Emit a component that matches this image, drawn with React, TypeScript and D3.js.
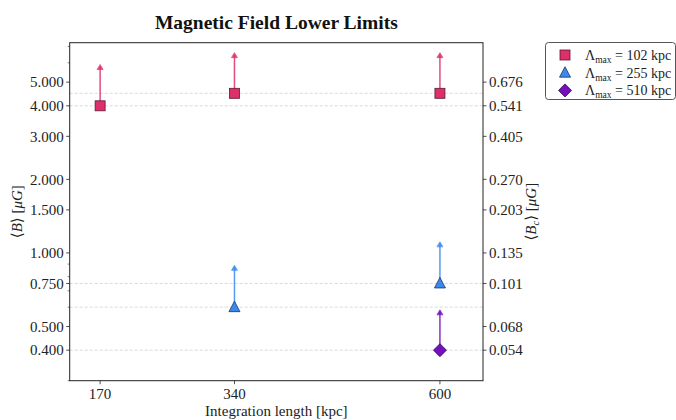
import React from "react";
import * as d3 from "d3";

const xCategories = [170, 340, 600];
const yTickValues = [5, 4, 3, 2, 1.5, 1, 0.75, 0.5, 0.4];
const yTickLabels = ["5.000", "4.000", "3.000", "2.000", "1.500", "1.000", "0.750", "0.500", "0.400"];
const yMinorTicks = [0.3, 0.6, 0.7, 0.8, 0.9, 6, 7];
const yRightTickLabels = ["0.676", "0.541", "0.405", "0.270", "0.203", "0.135", "0.101", "0.068", "0.054"];

const s102X = [170, 340, 600];
const s102Val = [4.0, 4.5, 4.5];
const s102Up = [5.9, 6.6, 6.6];
const s255X = [340, 600];
const s255Val = [0.6, 0.75];
const s255Up = [0.89, 1.11];
const s510X = [600];
const s510Val = [0.4];
const s510Up = [0.585];

const seriesLabels = ["102", "255", "510"];

const W = 676, H = 420;
const M = { left: 69.7, right: 483, top: 42.7, bottom: 380.7 };
const SERIF = "'Liberation Serif', 'DejaVu Serif', serif";

const series = [
  { x: s102X, v: s102Val, up: s102Up, color: "#dd2f6c", edge: "#5a1830", shape: "square", label: seriesLabels[0] },
  { x: s255X, v: s255Val, up: s255Up, color: "#3a8aee", edge: "#173766", shape: "triangle", label: seriesLabels[1] },
  { x: s510X, v: s510Val, up: s510Up, color: "#7410bd", edge: "#2e0650", shape: "diamond", label: seriesLabels[2] },
];

function Marker({ shape, cx, cy, fill, stroke }: any) {
  if (shape === "square") return <rect x={cx - 5} y={cy - 5} width={10} height={10} fill={fill} stroke={stroke} strokeWidth={0.8} />;
  if (shape === "triangle") return <path d={`M${cx},${cy - 6} L${cx + 5.5},${cy + 4.5} L${cx - 5.5},${cy + 4.5} Z`} fill={fill} stroke={stroke} strokeWidth={0.8} />;
  return <path d={`M${cx},${cy - 6.5} L${cx + 6.5},${cy} L${cx},${cy + 6.5} L${cx - 6.5},${cy} Z`} fill={fill} stroke={stroke} strokeWidth={0.8} />;
}

export default function App() {
  const x = d3.scaleLinear().domain([131.5, 654.5]).range([M.left, M.right]);
  const y = d3.scaleLog().domain([0.3, 7.25]).range([M.bottom, M.top]);
  const gridVals = Array.from(new Set([...s102Val, ...s255Val, ...s510Val]));
  const cx = (M.left + M.right) / 2;
  const cy = (M.top + M.bottom) / 2;

  return (
    <svg width={W} height={H} style={{ position: "absolute", left: 0, top: 0, background: "#fff" }} fontFamily={SERIF}>
      <rect width={W} height={H} fill="#fff" />
      {gridVals.map((g, i) => (
        <line key={i} x1={M.left} x2={M.right} y1={y(g)} y2={y(g)} stroke="#d0d0d0" strokeWidth={0.8} strokeDasharray="3,2" />
      ))}
      {series.map((s, si) =>
        s.x.map((xv, i) => {
          const px = x(xv), py = y(s.v[i]), pu = y(s.up[i]);
          return (
            <g key={`${si}-${i}`}>
              <line x1={px} x2={px} y1={py} y2={pu + 2} stroke={s.color} strokeWidth={1.5} opacity={0.85} />
              <path d={`M${px - 3},${pu + 5} L${px},${pu} L${px + 3},${pu + 5} Z`} fill={s.color} stroke={s.color} strokeWidth={0.8} opacity={0.85} />
              <Marker shape={s.shape} cx={px} cy={py} fill={s.color} stroke={s.edge} />
            </g>
          );
        })
      )}
      <rect x={M.left} y={M.top} width={M.right - M.left} height={M.bottom - M.top} fill="none" stroke="#222" strokeWidth={1} />
      {yTickValues.map((t, i) => (
        <g key={i}>
          <line x1={M.left - 3.5} x2={M.left} y1={y(t)} y2={y(t)} stroke="#222" strokeWidth={0.8} />
          <text x={M.left - 6} y={y(t)} dy="0.35em" textAnchor="end" fontSize={15} fill="#222">{yTickLabels[i]}</text>
          <line x1={M.right} x2={M.right + 3.5} y1={y(t)} y2={y(t)} stroke="#222" strokeWidth={0.8} />
          <text x={M.right + 6} y={y(t)} dy="0.35em" textAnchor="start" fontSize={15} fill="#222">{yRightTickLabels[i]}</text>
        </g>
      ))}
      {yMinorTicks.map((t, i) => (
        <line key={i} x1={M.left - 2} x2={M.left} y1={y(t)} y2={y(t)} stroke="#222" strokeWidth={0.6} />
      ))}
      {xCategories.map((c, i) => (
        <g key={i}>
          <line x1={x(c)} x2={x(c)} y1={M.bottom} y2={M.bottom + 3.5} stroke="#222" strokeWidth={0.8} />
          <text x={x(c)} y={M.bottom + 18} textAnchor="middle" fontSize={15} fill="#222">{c}</text>
        </g>
      ))}
      <text x={cx} y={416} textAnchor="middle" fontSize={15} fill="#222">Integration length [kpc]</text>
      <text transform={`translate(22,${cy}) rotate(-90)`} textAnchor="middle" fontSize={15} fill="#222">
        ⟨<tspan fontStyle="italic">B</tspan>⟩ [<tspan fontStyle="italic">μG</tspan>]
      </text>
      <text transform={`translate(536,${cy}) rotate(-90)`} textAnchor="middle" fontSize={15} fill="#222">
        ⟨<tspan fontStyle="italic">B</tspan><tspan fontStyle="italic" fontSize={10.5} dy={3}>c</tspan><tspan dy={-3}>⟩ [</tspan><tspan fontStyle="italic">μG</tspan>]
      </text>
      <text x={cx} y={29} textAnchor="middle" fontSize={19.5} fontWeight="bold" fill="#111">Magnetic Field Lower Limits</text>
      <rect x={545.5} y={42.5} width={130} height={57} rx={3} fill="#fff" stroke="#444" strokeWidth={0.9} />
      {series.map((s, i) => {
        const ly = 55 + i * 17.7;
        return (
          <g key={i}>
            <Marker shape={s.shape} cx={565} cy={ly} fill={s.color} stroke={s.edge} />
            <text x={585} y={ly} dy="0.35em" fontSize={14} fill="#222">
              Λ<tspan fontSize={9.5} dy={3}>max</tspan><tspan dy={-3}> = {s.label} kpc</tspan>
            </text>
          </g>
        );
      })}
    </svg>
  );
}
